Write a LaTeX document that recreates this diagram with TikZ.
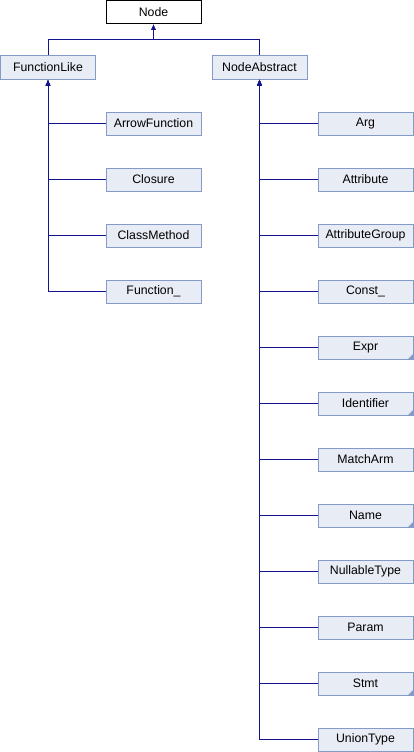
\documentclass[tikz,border=0pt]{standalone}
\usepackage{fontspec}
\setmainfont{Liberation Sans}
\usetikzlibrary{arrows.meta}
\definecolor{boxfill}{RGB}{232,236,245}
\definecolor{boxline}{RGB}{132,155,202}
\definecolor{edgeblue}{RGB}{20,20,140}
\tikzset{
  cls/.style={draw=boxline, fill=boxfill, line width=1pt, minimum width=95pt,
    minimum height=23pt, inner sep=0pt, font=\fontsize{12.3}{14}\selectfont},
  root/.style={cls, draw=black, fill=white},
  inherit/.style={draw=edgeblue, line width=1pt, -{Latex[length=6pt,width=5pt]}}
}
\begin{document}
\begin{tikzpicture}[x=1pt, y=-1pt]
      \useasboundingbox (0,0) rectangle (414,752);
      \draw
        (153.5,12) node[root] (node){Node}
        (48,67.5) node[cls] (fl){FunctionLike}
        (259.5,67.5) node[cls] (na){NodeAbstract}
        (153.5,123.5) node[cls] (af){ArrowFunction}
        (153.5,179.5) node[cls] (clo){Closure}
        (153.5,235.5) node[cls] (cm){ClassMethod}
        (153.5,291.5) node[cls] (fn){Function\_}
        (365.5,123.5) node[cls] (arg){Arg}
        (365.5,179.5) node[cls] (attr){Attribute}
        (365.5,235.5) node[cls] (ag){AttributeGroup}
        (365.5,291.5) node[cls] (const){Const\_}
        (365.5,347.5) node[cls] (expr){Expr}
        (365.5,403.5) node[cls] (ident){Identifier}
        (365.5,459.5) node[cls] (ma){MatchArm}
        (365.5,515.5) node[cls] (name){Name}
        (365.5,571.5) node[cls] (nt){NullableType}
        (365.5,627.5) node[cls] (param){Param}
        (365.5,683.5) node[cls] (stmt){Stmt}
        (365.5,739.5) node[cls] (ut){UnionType};
      \coordinate (j0) at (153.5,40);
      \begin{scope}[inherit]
        \draw (fl.north) |- (j0) -- (node.south);
        \draw (na.north) |- (j0) -- (node.south);
        \draw (af.west) -| (fl.south);
        \draw (clo.west) -| (fl.south);
        \draw (cm.west) -| (fl.south);
        \draw (fn.west) -| (fl.south);
        \draw (arg.west) -| (na.south);
        \draw (attr.west) -| (na.south);
        \draw (ag.west) -| (na.south);
        \draw (const.west) -| (na.south);
        \draw (expr.west) -| (na.south);
        \draw (ident.west) -| (na.south);
        \draw (ma.west) -| (na.south);
        \draw (name.west) -| (na.south);
        \draw (nt.west) -| (na.south);
        \draw (param.west) -| (na.south);
        \draw (stmt.west) -| (na.south);
        \draw (ut.west) -| (na.south);
      \end{scope}
      \foreach \n in {expr,ident,name,stmt}
        \fill[boxline] (\n.south east) -- ++(0,-6) -- ++(-6,6) -- cycle;
    \end{tikzpicture}
\end{document}
